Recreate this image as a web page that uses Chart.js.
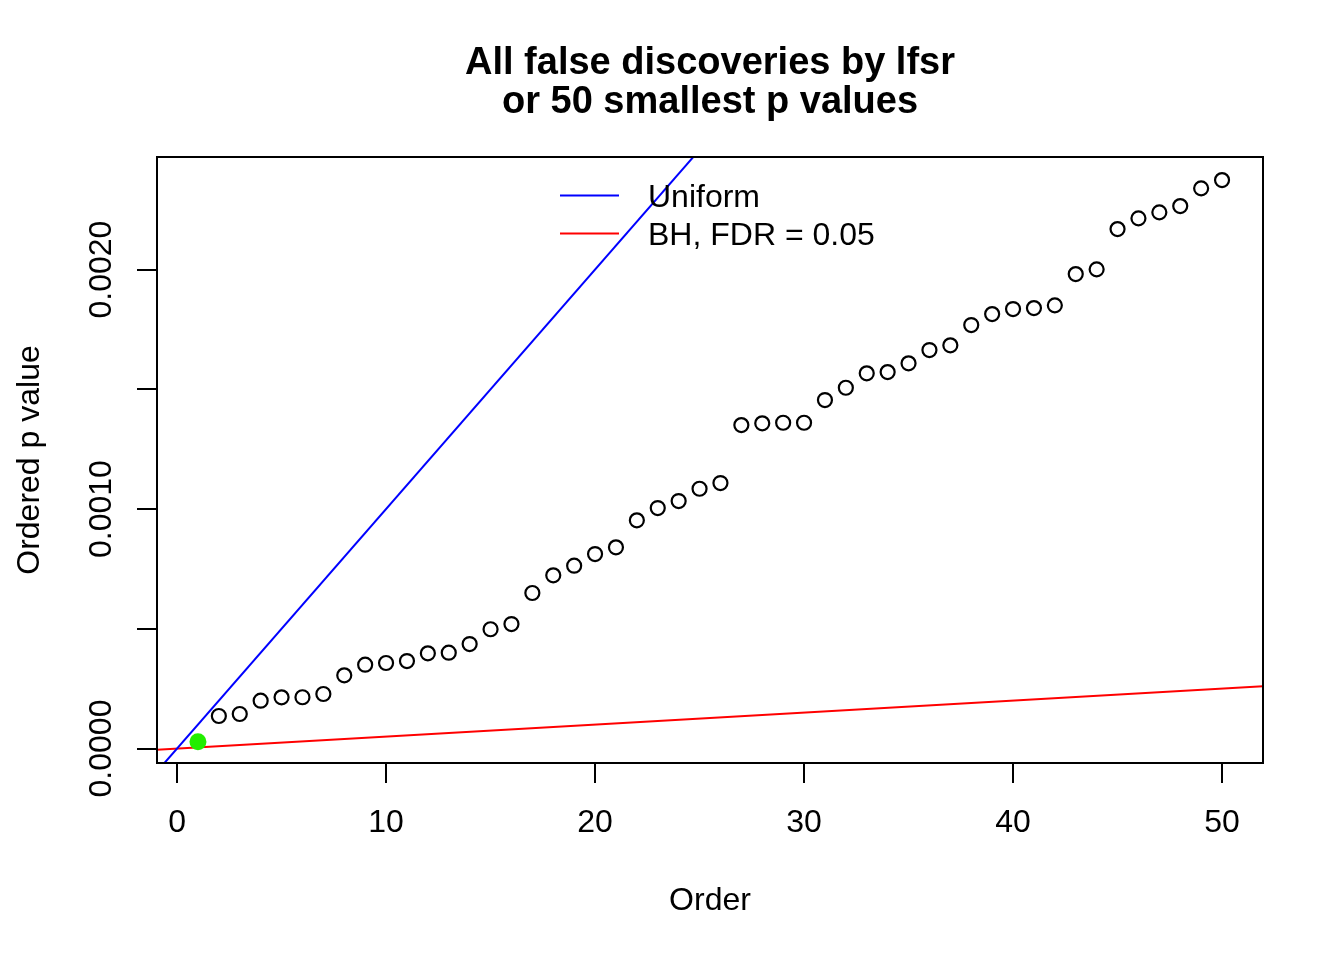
<!DOCTYPE html>
<html>
<head>
<meta charset="utf-8">
<title>All false discoveries by lfsr</title>
<script src="https://cdn.jsdelivr.net/npm/chart.js@4.4.0/dist/chart.umd.min.js"></script>
<style>
  html, body { margin: 0; padding: 0; background: #fff; }
  #wrap { width: 1344px; height: 960px; }
</style>
</head>
<body>
<div id="wrap"><canvas id="pvalChart" width="1344" height="960"></canvas></div>
<script>
// rank of each p value
const order = [1, 2, 3, 4, 5, 6, 7, 8, 9, 10,
  11, 12, 13, 14, 15, 16, 17, 18, 19, 20,
  21, 22, 23, 24, 25, 26, 27, 28, 29, 30,
  31, 32, 33, 34, 35, 36, 37, 38, 39, 40,
  41, 42, 43, 44, 45, 46, 47, 48, 49, 50];
// 50 smallest p values
const pValues = [
  0.0000284, 0.0001357, 0.0001441, 0.0001996, 0.0002138, 0.0002140, 0.0002276, 0.0003056, 0.0003499, 0.0003570,
  0.0003653, 0.0003975, 0.0004000, 0.0004363, 0.0004981, 0.0005198, 0.0006493, 0.0007232, 0.0007633, 0.0008121,
  0.0008401, 0.0009528, 0.0010042, 0.0010334, 0.0010848, 0.0011086, 0.0013507, 0.0013578, 0.0013603, 0.0013603,
  0.0014551, 0.0015065, 0.0015666, 0.0015720, 0.0016084, 0.0016639, 0.0016835, 0.0017683, 0.0018142, 0.0018351,
  0.0018392, 0.0018505, 0.0019812, 0.0020008, 0.0021691, 0.0022138, 0.0022388, 0.0022651, 0.0023390, 0.0023737
];
// reference lines (end points at the plot edges)
const lineX = [-0.96, 51.96];
const uniformY = [-0.000096, 0.005196];
const bhY = [-0.0000048, 0.0002598];

const xTicks = [0, 10, 20, 30, 40, 50];
const yTicks = [0, 0.0005, 0.001, 0.0015, 0.002];
const yTickLabels = ['0.0000', '', '0.0010', '', '0.0020'];
const legendLabels = ['Uniform', 'BH, FDR = 0.05'];
const legendColors = ['#0000ff', '#ff0000'];
const titleLines = ['All false discoveries by lfsr', 'or 50 smallest p values'];

const FONT = '"Liberation Sans", Arial, Helvetica, sans-serif';
Chart.defaults.font.family = FONT;
Chart.defaults.color = '#000';

// box around the plot, title and the legend (R style, no legend frame)
const rDecor = {
  id: 'rDecor',
  afterDraw(chart) {
    const { ctx, chartArea: a } = chart;
    ctx.save();
    ctx.strokeStyle = '#000';
    ctx.lineWidth = 2;
    ctx.strokeRect(a.left, a.top, a.right - a.left, a.bottom - a.top);

    ctx.fillStyle = '#000';
    ctx.textAlign = 'center';
    ctx.textBaseline = 'alphabetic';
    ctx.font = 'bold 38px ' + FONT;
    const cx = (a.left + a.right) / 2;
    ctx.fillText(titleLines[0], cx, 74);
    ctx.fillText(titleLines[1], cx, 113);

    ctx.font = '32px ' + FONT;
    ctx.textAlign = 'left';
    legendLabels.forEach((lab, i) => {
      const y = 195.5 + i * 38;
      ctx.strokeStyle = legendColors[i];
      ctx.lineWidth = 2;
      ctx.beginPath();
      ctx.moveTo(560, y);
      ctx.lineTo(619, y);
      ctx.stroke();
      ctx.fillText(lab, 648, y + 11.5);
    });
    ctx.restore();
  }
};

const tickGrid = { drawOnChartArea: false, drawTicks: true, tickLength: 20, color: '#000', lineWidth: 2 };

new Chart(document.getElementById('pvalChart'), {
  type: 'scatter',
  data: {
    datasets: [
      {
        label: 'lfsr',
        data: [{ x: order[0], y: pValues[0] }],
        pointRadius: 8.5,
        pointBorderWidth: 0,
        pointBackgroundColor: '#22ee00',
        pointBorderColor: '#22ee00'
      },
      {
        label: legendLabels[0],
        type: 'line',
        showLine: true,
        data: lineX.map((x, i) => ({ x: x, y: uniformY[i] })),
        borderColor: legendColors[0],
        borderWidth: 2,
        pointRadius: 0,
        fill: false
      },
      {
        label: legendLabels[1],
        type: 'line',
        showLine: true,
        data: lineX.map((x, i) => ({ x: x, y: bhY[i] })),
        borderColor: legendColors[1],
        borderWidth: 2,
        pointRadius: 0,
        fill: false
      },
      {
        label: 'p values',
        data: order.slice(1).map((o, i) => ({ x: o, y: pValues[i + 1] })),
        pointRadius: 7,
        pointBorderWidth: 2.2,
        pointBorderColor: '#000',
        pointBackgroundColor: 'rgba(0,0,0,0)'
      }
    ]
  },
  options: {
    responsive: false,
    animation: false,
    devicePixelRatio: 1,
    layout: { padding: { left: 0, right: 81, top: 157, bottom: 0 } },
    plugins: {
      legend: { display: false },
      tooltip: { enabled: false }
    },
    scales: {
      x: {
        type: 'linear',
        position: 'bottom',
        min: -0.96,
        max: 51.96,
        afterBuildTicks: s => { s.ticks = xTicks.map(v => ({ value: v })); },
        afterFit: s => { s.height = 197; },
        grid: tickGrid,
        border: { display: false },
        ticks: {
          font: { size: 32 },
          color: '#000',
          padding: 21,
          maxRotation: 0,
          autoSkip: false,
          callback: v => String(v)
        },
        title: { display: true, text: 'Order', font: { size: 32 }, color: '#000', padding: { top: 0, bottom: 40 } }
      },
      y: {
        type: 'linear',
        min: -0.0000605,
        max: 0.00247,
        afterBuildTicks: s => { s.ticks = yTicks.map(v => ({ value: v })); },
        afterFit: s => { s.width = 157; },
        grid: tickGrid,
        border: { display: false },
        ticks: {
          font: { size: 32 },
          color: '#000',
          minRotation: 90,
          maxRotation: 90,
          crossAlign: 'center',
          padding: -14,
          autoSkip: false,
          callback: (v, i) => yTickLabels[i]
        },
        title: { display: true, text: 'Ordered p value', font: { size: 32 }, color: '#000', padding: { top: 11, bottom: 0 } }
      }
    }
  },
  plugins: [rDecor]
});
</script>
</body>
</html>
